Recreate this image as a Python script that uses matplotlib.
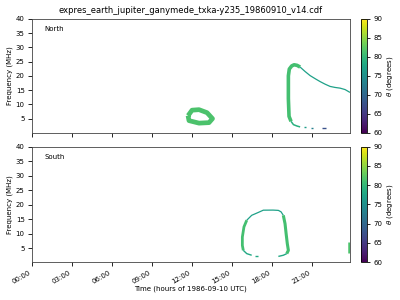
import numpy as np
import matplotlib
matplotlib.use("Agg")
import matplotlib.pyplot as plt
from matplotlib import cm
from matplotlib.colors import Normalize

# Emission features: time (hours UTC), frequency (MHz), theta (degrees)
# North hemisphere
n_ring_t = [11.73, 12.03, 12.55, 13.15, 13.56, 13.30, 12.55, 11.80, 11.73]
n_ring_f = [6.05, 7.97, 8.15, 7.10, 5.00, 3.60, 3.42, 4.30, 6.05]
n_ring_theta = 81.5

n_arc_t = [19.45, 19.30, 19.25, 19.25, 19.32, 19.50, 19.68, 19.90, 20.13]
n_arc_f = [4.05, 5.80, 12.0, 20.0, 22.40, 23.50, 23.90, 23.70, 23.10]
n_arc_theta = 81.0

n_tail_t = [20.13, 20.50, 20.88, 21.30, 21.63, 22.00, 22.38, 22.75, 23.13, 23.50, 23.87]
n_tail_f = [23.10, 21.55, 20.10, 18.90, 18.00, 17.10, 16.30, 15.95, 15.70, 15.20, 14.20]
n_tail_theta = 77.0

n_low_t = [19.45, 19.63, 19.90, 20.13]
n_low_f = [4.05, 2.90, 2.40, 2.10]
n_low_theta = 79.0

# short dashes at the bottom of the North arc
n_dash_t0 = [20.43, 20.95, 21.75]
n_dash_t1 = [20.58, 21.10, 22.05]
n_dash_f = [1.90, 1.75, 1.55]
n_dash_theta = [76.5, 73.0, 67.5]

# South hemisphere
s_top_t = [16.13, 16.50, 17.00, 17.37, 18.10, 18.50, 18.70, 18.87]
s_top_f = [14.60, 16.30, 17.30, 18.07, 18.10, 18.00, 17.50, 16.30]
s_top_theta = 77.0

s_left_t = [16.13, 15.92, 15.80, 15.80, 15.87]
s_left_f = [14.60, 12.30, 8.80, 5.90, 4.20]
s_right_t = [18.87, 19.00, 19.08, 19.17, 19.25, 19.13]
s_right_f = [16.30, 13.40, 10.00, 6.50, 4.20, 3.06]
s_side_theta = 81.0

s_botl_t = [15.87, 16.13, 16.50]
s_botl_f = [4.20, 3.06, 2.50]
s_botr_t = [19.13, 18.87, 18.50]
s_botr_f = [3.06, 2.50, 2.10]
s_bot_theta = 78.0
s_dash_t = [16.75, 17.00]
s_dash_f = [2.10, 2.10]

s_edge_t = [23.80, 23.80]
s_edge_f = [7.10, 3.40]
s_edge_theta = 81.5

xticks = [0, 3, 6, 9, 12, 15, 18, 21]
xticklabels = ["00:00", "03:00", "06:00", "09:00", "12:00", "15:00", "18:00", "21:00"]

norm = Normalize(vmin=60, vmax=90)
cmap = cm.viridis

def col(th):
    return cmap(norm(th))

fig = plt.figure(figsize=(4, 3), dpi=100)
ax1 = fig.add_axes([0.079, 0.558, 0.796, 0.379])
ax2 = fig.add_axes([0.079, 0.126, 0.796, 0.385])
cax1 = fig.add_axes([0.902, 0.558, 0.015, 0.379])
cax2 = fig.add_axes([0.902, 0.126, 0.015, 0.385])

kw = dict(solid_capstyle="butt", solid_joinstyle="round")

# North
ax1.plot(n_ring_t, n_ring_f, color=col(n_ring_theta), lw=3.4, **kw)
ax1.plot(n_arc_t, n_arc_f, color=col(n_arc_theta), lw=2.6, **kw)
ax1.plot(n_tail_t, n_tail_f, color=col(n_tail_theta), lw=0.9, **kw)
ax1.plot(n_low_t, n_low_f, color=col(n_low_theta), lw=1.1, **kw)
for t0, t1, f, th in zip(n_dash_t0, n_dash_t1, n_dash_f, n_dash_theta):
    ax1.plot([t0, t1], [f, f], color=col(th), lw=1.0, **kw)

# South
ax2.plot(s_top_t, s_top_f, color=col(s_top_theta), lw=0.9, **kw)
ax2.plot(s_left_t, s_left_f, color=col(s_side_theta), lw=2.0, **kw)
ax2.plot(s_right_t, s_right_f, color=col(s_side_theta), lw=2.2, **kw)
ax2.plot(s_botl_t, s_botl_f, color=col(s_bot_theta), lw=1.0, **kw)
ax2.plot(s_botr_t, s_botr_f, color=col(s_bot_theta), lw=1.0, **kw)
ax2.plot(s_dash_t, s_dash_f, color=col(s_bot_theta), lw=1.0, **kw)
ax2.plot(s_edge_t, s_edge_f, color=col(s_edge_theta), lw=1.8, **kw)

for ax, name in [(ax1, "North"), (ax2, "South")]:
    ax.set_xlim(0, 23.87)
    ax.set_ylim(0.1, 40)
    ax.set_yticks([5, 10, 15, 20, 25, 30, 35, 40])
    ax.set_xticks(xticks)
    ax.tick_params(labelsize=5, length=3, width=0.6, pad=2)
    ax.set_ylabel("Frequency (MHz)", fontsize=5, labelpad=2)
    ax.text(0.04, 0.91, name, transform=ax.transAxes, fontsize=5, va="center")
    for s in ax.spines.values():
        s.set_linewidth(0.6)
        s.set_color("#444444")

ax1.set_xticklabels([])
ax2.set_xticklabels(xticklabels, rotation=30, ha="right")
ax2.set_xlabel("Time (hours of 1986-09-10 UTC)", fontsize=5, labelpad=1)
ax1.set_title("expres_earth_jupiter_ganymede_txka-y235_19860910_v14.cdf", fontsize=6, pad=4)

sm = cm.ScalarMappable(norm=norm, cmap=cmap)
for cax in (cax1, cax2):
    cb = fig.colorbar(sm, cax=cax)
    cb.set_ticks([60, 65, 70, 75, 80, 85, 90])
    cb.ax.tick_params(labelsize=5, length=2.5, width=0.6, pad=2)
    cb.set_label(r"$\theta$ (degrees)", fontsize=5, labelpad=2)
    cb.outline.set_linewidth(0.6)

fig.savefig("out.png", dpi=100)
